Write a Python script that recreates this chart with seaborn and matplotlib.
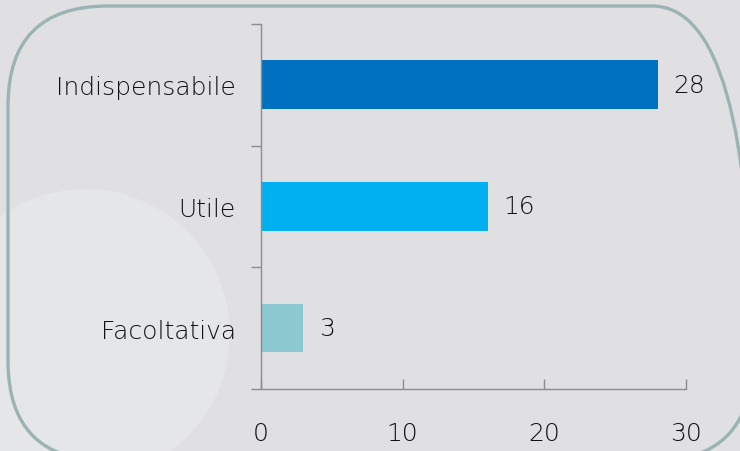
import seaborn as sns
import pandas as pd
from matplotlib import pyplot as plt
from matplotlib.patches import FancyBboxPatch, Circle

categories = ["Indispensabile", "Utile", "Facoltativa"]
values = [28, 16, 3]
colors = ["#0070C0", "#00B0F0", "#8CC8D0"]

df = pd.DataFrame({"categoria": categories, "valore": values})

sns.set_style("white")
plt.rcParams["font.family"] = ["DejaVu Sans"]
plt.rcParams["font.weight"] = "light"

fig = plt.figure(figsize=(7.4, 4.52), dpi=100)
fig.patch.set_facecolor("#E0E0E2")

# decorative background, drawn in inches from the bottom-left corner
fig.patches.append(Circle((0.85, 1.17), 1.45, transform=fig.dpi_scale_trans,
                          facecolor="#E4E6E7", edgecolor="none", zorder=-2))
fig.patches.append(FancyBboxPatch((0.08, -0.10), 7.44, 4.55,
                                  boxstyle="round,pad=0,rounding_size=1.0",
                                  transform=fig.dpi_scale_trans,
                                  facecolor="none", edgecolor="#9AB4B4",
                                  linewidth=2.4, zorder=-1))

ax = fig.add_axes([0.3527, 0.1372, 0.5743, 0.8075])
ax.set_zorder(2)
ax.set_facecolor("none")
sns.barplot(data=df, x="valore", y="categoria", hue="categoria", palette=colors,
            orient="h", width=0.4, saturation=1, linewidth=0, legend=False, ax=ax)

for c in ax.containers:
    ax.bar_label(c, padding=11, fontsize=18, color="#111111")

ax.set_xlim(0, 30)
ax.set_ylim(2.5, -0.5)
ax.set_xticks([0, 10, 20, 30])
# boundaries as major ticks, category names as minor ticks
ax.set_yticks([-0.5, 0.5, 1.5, 2.5])
ax.set_yticklabels([])
ax.set_yticks([0, 1, 2], minor=True)
ax.set_yticklabels(categories, minor=True)
ax.tick_params(axis="y", which="minor", length=0, pad=18, labelsize=18, labelcolor="#111111")
ax.tick_params(axis="y", which="major", length=7, direction="out", color="#8C8C8C", width=1, left=True)
ax.tick_params(axis="x", length=7, direction="in", color="#8C8C8C", width=1, bottom=True,
               pad=23, labelsize=18, labelcolor="#111111")
ax.set_xlabel("")
ax.set_ylabel("")
for s in ["top", "right"]:
    ax.spines[s].set_visible(False)
for s in ["left", "bottom"]:
    ax.spines[s].set_color("#8C8C8C")
    ax.spines[s].set_linewidth(1)

fig.savefig("out.png", dpi=100, facecolor=fig.get_facecolor())
